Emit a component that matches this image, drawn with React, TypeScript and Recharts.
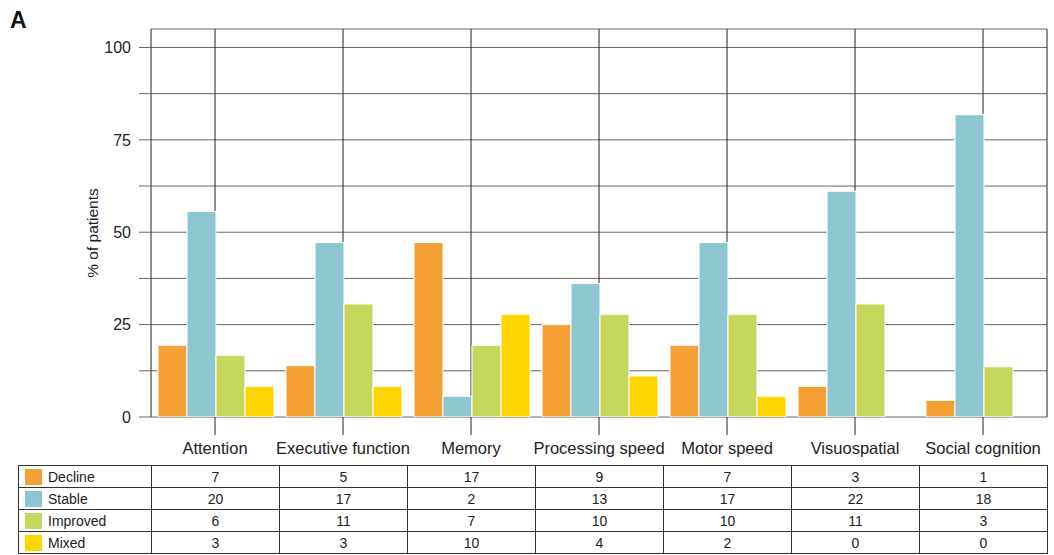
import { BarChart, Bar, XAxis, YAxis, CartesianGrid, Label } from "recharts";

const domains = [
  "Attention",
  "Executive function",
  "Memory",
  "Processing speed",
  "Motor speed",
  "Visuospatial",
  "Social cognition",
];

// % of patients
const declinePct = [19.4, 13.9, 47.2, 25.0, 19.4, 8.3, 4.5];
const stablePct = [55.6, 47.2, 5.6, 36.1, 47.2, 61.1, 81.8];
const improvedPct = [16.7, 30.6, 19.4, 27.8, 27.8, 30.6, 13.6];
const mixedPct = [8.3, 8.3, 27.8, 11.1, 5.6, 0, 0];

// patient counts shown in the table
const declineN = [7, 5, 17, 9, 7, 3, 1];
const stableN = [20, 17, 2, 13, 17, 22, 18];
const improvedN = [6, 11, 7, 10, 10, 11, 3];
const mixedN = [3, 3, 10, 4, 2, 0, 0];

const yTicks = [0, 12.5, 25, 37.5, 50, 62.5, 75, 87.5, 100];

const series = [
  { key: "decline", name: "Decline", color: "#F5A034", counts: declineN },
  { key: "stable", name: "Stable", color: "#8BC6D1", counts: stableN },
  { key: "improved", name: "Improved", color: "#C6D75D", counts: improvedN },
  { key: "mixed", name: "Mixed", color: "#FED600", counts: mixedN },
];

const data = domains.map((d, i) => ({
  domain: d,
  decline: declinePct[i],
  stable: stablePct[i],
  improved: improvedPct[i],
  mixed: mixedPct[i],
}));

const font = "'Liberation Sans', Arial, Helvetica, sans-serif";

function YTitle(props: any) {
  const vb = props.viewBox || {};
  const cx = vb.x + vb.width / 2;
  const cy = vb.y + vb.height / 2 + 10;
  return (
    <text
      x={cx}
      y={cy}
      transform={`rotate(-90, ${cx}, ${cy})`}
      textAnchor="middle"
      dominantBaseline="central"
      fill="#222"
      fontSize={15.5}
      fontFamily={font}
    >
      % of patients
    </text>
  );
}

export default function App() {
  const cell: any = {
    border: "1px solid #333",
    padding: 0,
    height: 21,
    textAlign: "center",
    fontSize: 14,
    color: "#222",
  };
  return (
    <div style={{ position: "absolute", left: 0, top: 0, width: 1054, height: 555, fontFamily: font, background: "#fff" }}>
      <div style={{ position: "absolute", left: 10, top: 7, fontSize: 23, fontWeight: "bold", color: "#111" }}>A</div>
      <BarChart
        width={1054}
        height={470}
        data={data}
        margin={{ top: 29, right: 7, bottom: 13, left: 33 }}
        barCategoryGap={7}
        barGap={0}
      >
        <CartesianGrid horizontal={true} vertical={false} stroke="#666" />
        <CartesianGrid horizontal={false} vertical={true} stroke="#222" />
        <XAxis
          dataKey="domain"
          height={40}
          axisLine={false}
          tickSize={18}
          tickMargin={7}
          tickLine={{ stroke: "#222" }}
          tick={{ fill: "#222", fontSize: 16.5, fontFamily: font }}
          interval={0}
        />
        <YAxis
          width={118}
          domain={[0, 105]}
          ticks={yTicks}
          allowDataOverflow
          axisLine={false}
          tickSize={12}
          tickMargin={8}
          tickLine={{ stroke: "#666" }}
          tick={{ fill: "#222", fontSize: 16, fontFamily: font }}
          tickFormatter={(v: number) => (v % 25 === 0 ? String(v) : "")}
        >
          <Label position="center" content={<YTitle />} />
        </YAxis>
        {series.map((s) => (
          <Bar key={s.key} dataKey={s.key} name={s.name} fill={s.color} stroke="#fff" strokeWidth={1} isAnimationActive={false} />
        ))}
      </BarChart>
      <table
        style={{
          position: "absolute",
          left: 18,
          top: 465,
          borderCollapse: "collapse",
          tableLayout: "fixed",
          width: 1029,
          fontFamily: font,
        }}
      >
        <colgroup>
          <col style={{ width: 133 }} />
          {domains.map((d) => (
            <col key={d} style={{ width: 128 }} />
          ))}
        </colgroup>
        <tbody>
          {series.map((s) => (
            <tr key={s.key}>
              <td style={{ ...cell, textAlign: "left" }}>
                <span
                  style={{
                    display: "inline-block",
                    width: 17,
                    height: 16,
                    background: s.color,
                    verticalAlign: "middle",
                    marginLeft: 6,
                    marginRight: 6,
                  }}
                />
                <span style={{ verticalAlign: "middle" }}>{s.name}</span>
              </td>
              {s.counts.map((n, i) => (
                <td key={i} style={cell}>
                  {n}
                </td>
              ))}
            </tr>
          ))}
        </tbody>
      </table>
    </div>
  );
}
